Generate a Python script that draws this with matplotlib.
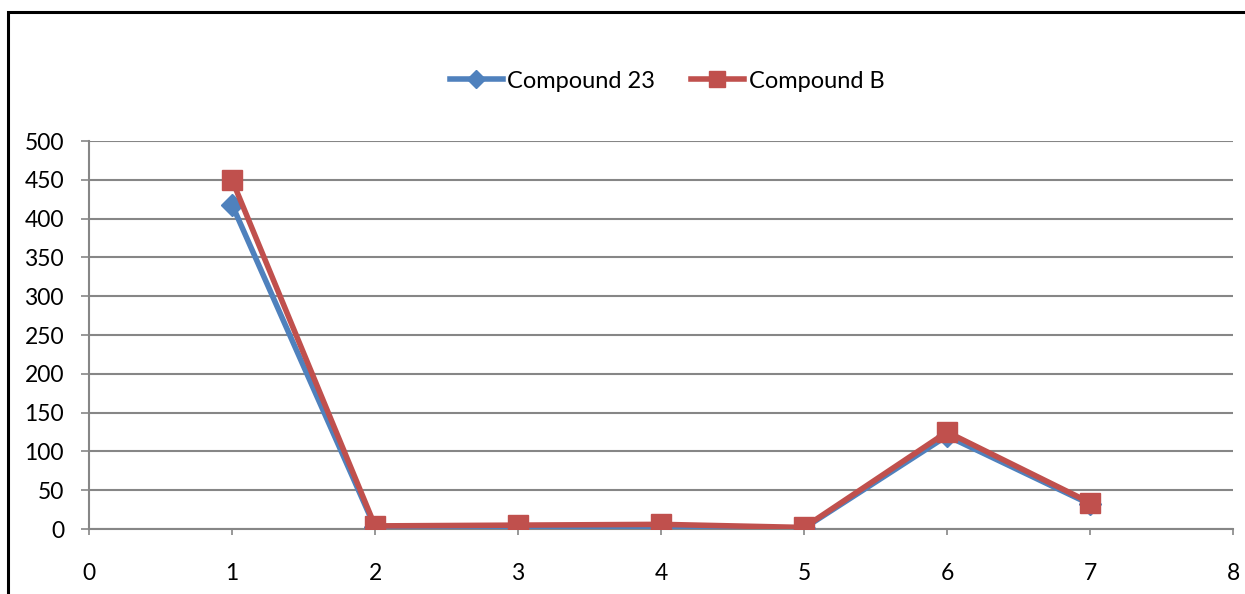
import matplotlib
matplotlib.use("Agg")
import matplotlib.pyplot as plt
from matplotlib.patches import Rectangle

x_values = [1, 2, 3, 4, 5, 6, 7]
compound_23 = [418, 2, 3, 3, 1, 120, 32]
compound_b = [450, 4, 5, 6, 2, 125, 34]
series_names = ["Compound 23", "Compound B"]
x_ticks = [0, 1, 2, 3, 4, 5, 6, 7, 8]
y_ticks = [0, 50, 100, 150, 200, 250, 300, 350, 400, 450, 500]

plt.rcParams['font.family'] = ['Lato', 'DejaVu Sans']

W, H = 1245, 594
fig = plt.figure(figsize=(W / 100, H / 100), dpi=100)
ax = fig.add_axes([89 / W, 1 - 529 / H, (1233 - 89) / W, (529 - 141) / H])

blue = '#4F81BD'
red = '#C0504D'
grid_c = '#868686'

l1, = ax.plot(x_values, compound_23, color=blue, lw=4, marker='D', ms=11,
              markeredgecolor=blue, markerfacecolor=blue, zorder=3)
l2, = ax.plot(x_values, compound_b, color=red, lw=4, marker='s', ms=14,
              markeredgecolor=red, markerfacecolor=red, zorder=4)

ax.set_xlim(0, 8)
ax.set_ylim(0, 500)
ax.set_xticks(x_ticks)
ax.set_yticks(y_ticks)
ax.set_xticklabels([str(v) for v in x_ticks])
ax.set_yticklabels([str(v) for v in y_ticks])

ax.yaxis.grid(True, color=grid_c, lw=1.5)
ax.set_axisbelow(True)
for s in ['top', 'right']:
    ax.spines[s].set_visible(False)
for s in ['left', 'bottom']:
    ax.spines[s].set_color(grid_c)
    ax.spines[s].set_linewidth(1.5)
ax.tick_params(axis='y', length=6, width=1.2, color=grid_c, pad=12, labelsize=16.5)
ax.tick_params(axis='x', length=4.5, width=1.2, color=grid_c, pad=20, labelsize=16.5)

fig.legend([l1, l2], series_names, loc='center', bbox_to_anchor=(667 / W, 1 - 81 / H),
           ncol=2, frameon=False, fontsize=17, handlelength=2.25,
           handletextpad=0.2, columnspacing=1.5, markerscale=0.85)

border = Rectangle((8 / W, -0.1), 1.2, 1 - 12 / H + 0.1, transform=fig.transFigure,
                   fill=False, edgecolor='black', lw=2.2, zorder=10)
fig.patches.append(border)

fig.savefig('out.png', dpi=100)
